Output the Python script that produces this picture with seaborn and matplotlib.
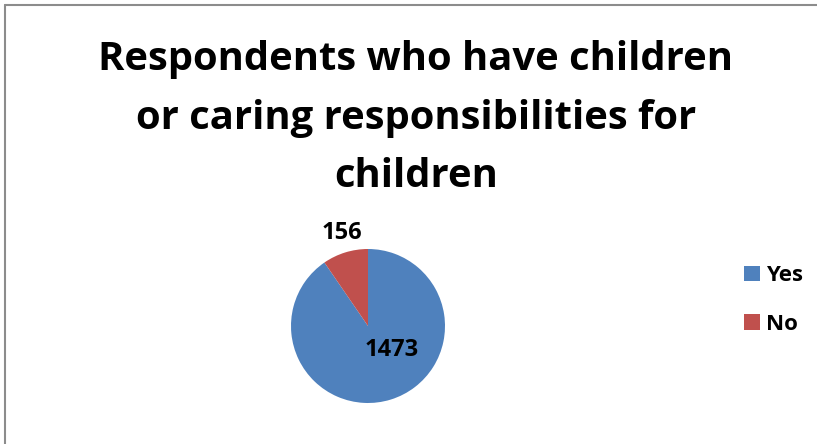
import matplotlib
matplotlib.use("Agg")
import matplotlib.pyplot as plt
import seaborn as sns
from matplotlib.lines import Line2D

# Data
categories = ["Yes", "No"]
counts = [1473, 156]
colors = ["#4F81BD", "#C0504D"]
title = "Respondents who have children\nor caring responsibilities for\nchildren"

sns.set_theme(style="white")
plt.rcParams['font.family'] = ['Open Sans', 'DejaVu Sans']
plt.rcParams['text.color'] = 'black'

W, H = 817, 444
fig = plt.figure(figsize=(W / 100, H / 100), dpi=100)
fig.patch.set_facecolor("white")

# chart border (only top/left visible in the crop)
fig.add_artist(Line2D([5 / W, 5 / W], [0, 1 - 5 / H], color="#8c8c8c", lw=1.5))
fig.add_artist(Line2D([5 / W, 1], [1 - 5 / H, 1 - 5 / H], color="#8c8c8c", lw=1.5))

fig.text(416 / W, 1 - 118 / H, title, ha="center", va="center", fontsize=28.8,
         fontweight="bold", linespacing=1.66, color="black")

# pie
cx, cy, r = 368, 326, 77
ax = fig.add_axes([(cx - r) / W, (H - cy - r) / H, 2 * r / W, 2 * r / H])
wedges, _ = ax.pie(counts, colors=colors, startangle=90, counterclock=False,
                   wedgeprops=dict(linewidth=0))
ax.set_xlim(-1, 1)
ax.set_ylim(-1, 1)
ax.set_aspect("equal")
ax.axis("off")

# data labels
label_pos = [(0.31, -0.31), (-0.34, 1.21)]
for (lx, ly), v in zip(label_pos, counts):
    ax.text(lx, ly, str(v), ha="center", va="center", fontsize=17,
            fontweight="bold", clip_on=False, color="black")

# legend
leg = fig.legend(wedges, categories, loc="center left",
                 bbox_to_anchor=(724 / W, 1 - 300 / H), frameon=False,
                 prop=dict(size=16, weight="bold"), handlelength=0.7,
                 handleheight=0.7, labelspacing=1.25, handletextpad=0.3)
for t in leg.get_texts():
    t.set_color("black")

fig.savefig("out.png", dpi=100, facecolor="white")
